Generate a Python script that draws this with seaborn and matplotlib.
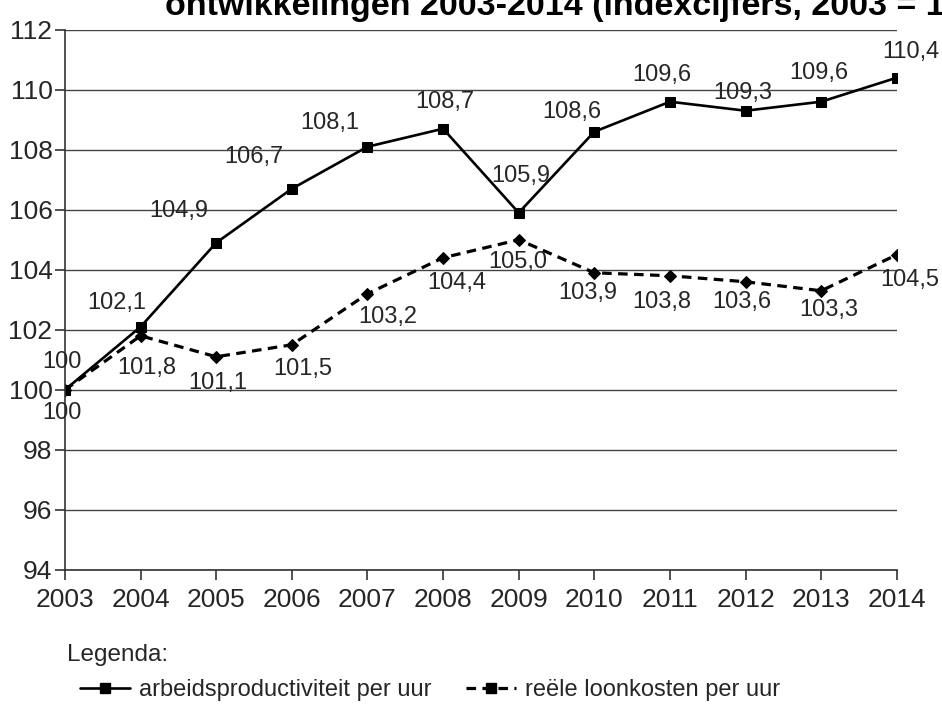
"""
Arbeidsproductiviteit en reele loonkosten per uur, 2003-2014 (indexcijfers).
"""

import matplotlib
matplotlib.use('Agg')
import matplotlib.pyplot as plt
from matplotlib.lines import Line2D
import pandas as pd
import seaborn as sns

sns.set_theme(style='white')
plt.rcParams['font.family'] = ['Liberation Sans', 'DejaVu Sans']

# Data
years = [2003, 2004, 2005, 2006, 2007, 2008, 2009, 2010, 2011, 2012, 2013,
         2014]
productiviteit = [100, 102.1, 104.9, 106.7, 108.1, 108.7, 105.9, 108.6,
                  109.6, 109.3, 109.6, 110.4]
loonkosten = [100, 101.8, 101.1, 101.5, 103.2, 104.4, 105.0, 103.9, 103.8,
              103.6, 103.3, 104.5]
label_prod = 'arbeidsproductiviteit per uur'
label_loon = 'reële loonkosten per uur'
title = 'ontwikkelingen 2003-2014 (indexcijfers, 2003 = 100)'

# label offsets in pixels (dx, dy)
off_prod = [(-3, 28), (-24, 24), (-37, 32), (-38, 32), (-38, 24), (2, 27),
            (2, 37), (-23, 20), (-8, 27), (-3, 18), (-2, 29), (14, 26)]
off_loon = [(-3, -23), (6, -32), (2, -26), (11, -24), (20, -23), (14, -25),
            (-1, -22), (-7, -20), (-8, -26), (-4, -20), (8, -19), (13, -25)]

df = pd.DataFrame({'year': years, 'prod': productiviteit,
                   'loon': loonkosten})

fig = plt.figure(figsize=(9.42, 7.07), dpi=100)
ax = fig.add_axes([0.069, 0.194, 0.883, 0.764])

sns.lineplot(data=df, x='year', y='prod', ax=ax, color='black',
             linewidth=1.9, marker='s', markersize=7, markeredgecolor='black')
sns.lineplot(data=df, x='year', y='loon', ax=ax, color='black',
             linewidth=2.3, linestyle=(0, (3, 2)), marker='D', markersize=6,
             markeredgecolor='black')

txt = '#262626'
for x, y, (dx, dy) in zip(years, productiviteit, off_prod):
    s = ('%g' % y).replace('.', ',')
    ax.annotate(s, (x, y), xytext=(dx, dy), textcoords='offset pixels',
                ha='center', va='center', fontsize=17, color=txt)
for x, y, (dx, dy) in zip(years, loonkosten, off_loon):
    s = ('%.1f' % y).replace('.', ',') if y != 100 else '100'
    ax.annotate(s, (x, y), xytext=(dx, dy), textcoords='offset pixels',
                ha='center', va='center', fontsize=17, color=txt)

ax.set_xlim(2003, 2014)
ax.set_ylim(94, 112)
ax.set_xticks(years)
ax.set_yticks(range(94, 113, 2))
ax.yaxis.grid(True, color='#444444', linewidth=1)
ax.set_axisbelow(True)
ax.set_xlabel('')
ax.set_ylabel('')
for side in ['top', 'right']:
    ax.spines[side].set_visible(False)
for side in ['left', 'bottom']:
    ax.spines[side].set_color('#333333')
    ax.spines[side].set_linewidth(1.2)
ax.tick_params(axis='both', labelsize=19, colors='#333333', length=7,
               width=1.2, direction='out', labelcolor=txt)
ax.tick_params(axis='x', bottom=True, pad=6)
ax.tick_params(axis='y', left=True, pad=2)

fig.text(165 / 942, 1 - 15 / 707, title, fontsize=24.5, fontweight='bold',
         color='black', ha='left', va='baseline')

fig.text(67 / 942, 1 - 655 / 707, 'Legenda:', fontsize=17.5, color=txt,
         ha='left', va='center')
handles = [Line2D([], [], color='black', linewidth=1.9, marker='s',
                  markersize=7),
           Line2D([], [], color='black', linewidth=2.3,
                  linestyle=(0, (3, 2)), marker='s', markersize=7)]
fig.legend(handles, [label_prod, label_loon], loc='center left',
           bbox_to_anchor=(80 / 942, 1 - 690 / 707), ncol=2, frameon=False,
           fontsize=17, labelcolor=txt, handlelength=2.1, handletextpad=0.38,
           columnspacing=1.5, borderpad=0, borderaxespad=0)

fig.savefig('out.png', dpi=100)
